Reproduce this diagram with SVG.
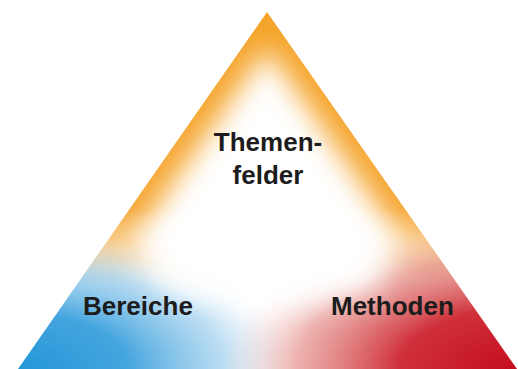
<svg xmlns="http://www.w3.org/2000/svg" width="518" height="369" viewBox="0 0 518 369">
<style>
.lbl{font-family:"Liberation Sans",Arial,sans-serif;font-weight:bold;font-size:26px;fill:#1c1c1c}
</style>
<defs>
<clipPath id="tri"><polygon points="267,12 18,369 517,369"/></clipPath>
<linearGradient id="gOrange" x1="0" y1="12" x2="0" y2="369" gradientUnits="userSpaceOnUse">
<stop offset="0" stop-color="#f5a42a"/>
<stop offset="0.55" stop-color="#f5a733"/>
<stop offset="0.7" stop-color="#f8c37a" stop-opacity="0.6"/>
<stop offset="0.8" stop-color="#ffffff" stop-opacity="0"/>
</linearGradient>
<radialGradient id="gBlue" cx="18" cy="369" r="1" gradientUnits="userSpaceOnUse" gradientTransform="translate(18 369) scale(275 140) translate(-18 -369)">
<stop offset="0" stop-color="#2496d8"/>
<stop offset="0.4" stop-color="#3aa0dd" stop-opacity="0.95"/>
<stop offset="0.75" stop-color="#8cc6ea" stop-opacity="0.6"/>
<stop offset="1" stop-color="#cfe6f5" stop-opacity="0"/>
</radialGradient>
<radialGradient id="gRed" cx="517" cy="369" r="1" gradientUnits="userSpaceOnUse" gradientTransform="translate(517 369) scale(295 150) translate(-517 -369)">
<stop offset="0" stop-color="#c40c1e"/>
<stop offset="0.4" stop-color="#cd2530" stop-opacity="0.95"/>
<stop offset="0.75" stop-color="#e07f78" stop-opacity="0.6"/>
<stop offset="1" stop-color="#f5d6d2" stop-opacity="0"/>
</radialGradient>
<filter id="blur" x="-30%" y="-30%" width="160%" height="160%"><feGaussianBlur stdDeviation="14"/></filter>
</defs>
<rect width="518" height="369" fill="#ffffff"/>
<g id="triangle" clip-path="url(#tri)">
<polygon points="267,12 18,369 517,369" fill="#ffffff"/>
<rect x="0" y="0" width="518" height="369" fill="url(#gOrange)"/>
<rect x="0" y="0" width="518" height="369" fill="url(#gBlue)"/>
<rect x="0" y="0" width="518" height="369" fill="url(#gRed)"/>
<polygon points="267,48 132,242 165,290 250,305 290,305 372,290 402,242" fill="#ffffff" filter="url(#blur)"/>
</g>
<g id="themenfelder"><text class="lbl" x="268" y="151" text-anchor="middle">Themen-</text><text class="lbl" x="268" y="184" text-anchor="middle">felder</text></g>
<g id="bereiche"><text class="lbl" x="83" y="315">Bereiche</text></g>
<g id="methoden"><text class="lbl" x="331" y="315">Methoden</text></g>
<g id="connectors"/>
</svg>
